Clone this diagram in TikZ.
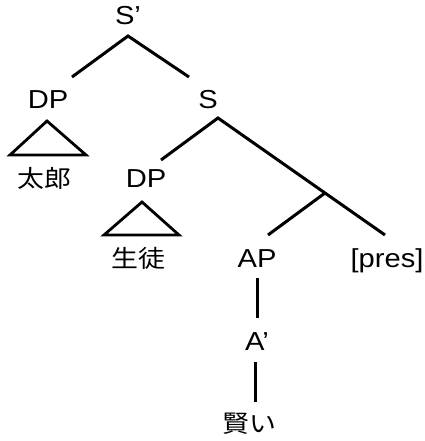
\documentclass[tikz,border=0pt]{standalone}
\usepackage{fontspec}
\setmainfont{Liberation Sans}[FakeStretch=1.12]
\newfontfamily\jafont{Noto Sans CJK JP}[FakeStretch=1.12]
\begin{document}
\begin{tikzpicture}[x=1pt,y=-1pt,
  lab/.style={inner sep=0pt,anchor=base,font=\fontsize{26}{26}\selectfont},
  word/.style={inner sep=0pt,anchor=center,font=\jafont\fontsize{24}{24}\selectfont},
  branch/.style={line width=3pt},
  tri/.style={line width=2.8pt,line join=miter}]
\useasboundingbox (0,0) rectangle (424,441);

% category labels
\node[lab] (Sbar) at (128,25)  {S’};
\node[lab] (DPa)  at (48,108)  {DP};
\node[lab] (S)    at (208,108) {S};
\node[lab] (DPb)  at (146,187) {DP};
\node[lab] (AP)   at (257,267) {AP};
\node[lab] (pres) at (387,267) {[pres]};
\node[lab] (Abar) at (257,350) {A’};

% lexical items
\node[word] (taro)   at (44,178)  {太郎};
\node[word] (seito)  at (138,258) {生徒};
\node[word] (kashikoi) at (249,424) {賢い};

% branch points and line ends
\coordinate (Sbar-top) at (128,36);
\coordinate (DPa-up)   at (72,77);
\coordinate (S-up)     at (189,77);
\coordinate (S-top)    at (218,118);
\coordinate (DPb-up)   at (161,160);
\coordinate (Tbar)     at (325,193);
\coordinate (AP-up)    at (268,235);
\coordinate (pres-up)  at (385,235);
\coordinate (AP-down)  at (257,278);
\coordinate (Abar-up)  at (257,318);
\coordinate (Abar-down) at (255,362);
\coordinate (kashikoi-up) at (255,402);

\draw[branch] (DPa-up) -- (Sbar-top) -- (S-up);
\draw[branch] (DPb-up) -- (S-top) -- (Tbar) -- (pres-up);
\draw[branch] (Tbar) -- (AP-up);
\draw[branch] (AP-down) -- (Abar-up);
\draw[branch] (Abar-down) -- (kashikoi-up);

% triangles over the DPs
\draw[tri] (47,121) -- (86,155) -- (10,155) -- cycle;
\draw[tri] (142,202) -- (179,235) -- (104,235) -- cycle;
\end{tikzpicture}
\end{document}
